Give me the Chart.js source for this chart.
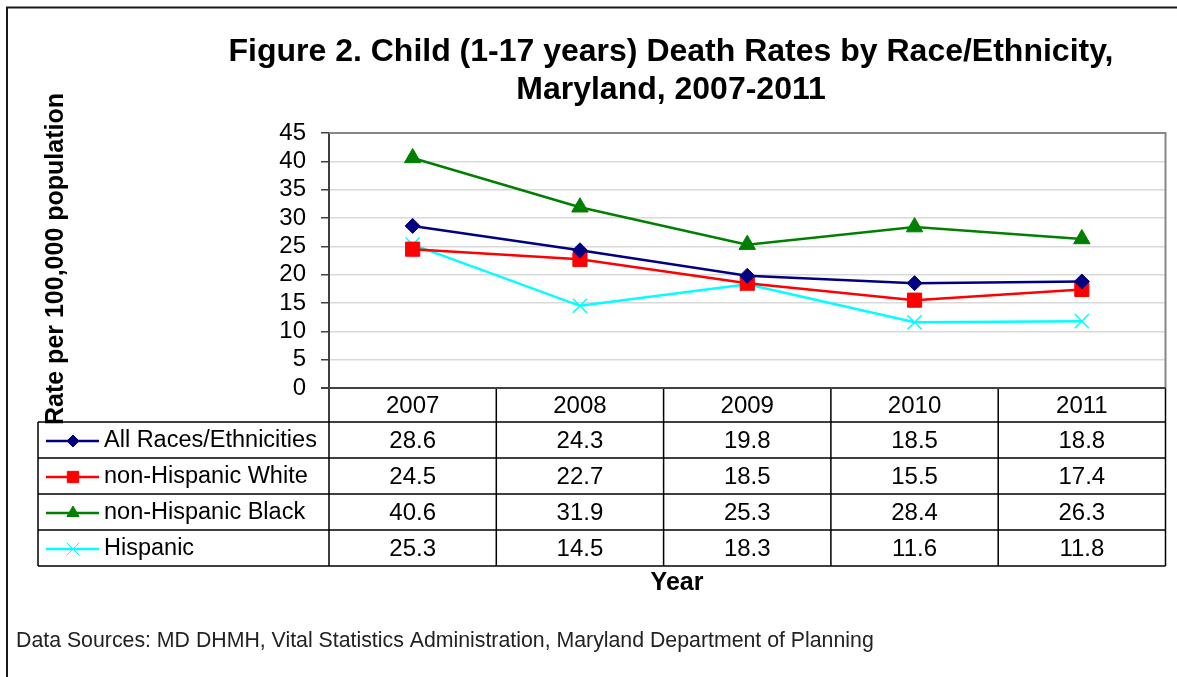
<!DOCTYPE html>
<html><head><meta charset="utf-8">
<script src="https://cdn.jsdelivr.net/npm/chart.js@4/dist/chart.umd.min.js"></script>
<style>html,body{margin:0;padding:0;background:#fff}#wrap{position:relative;width:1177px;height:677px}</style>
</head><body><div id="wrap"><canvas id="c" width="1177" height="677"></canvas></div>
<script>
const years = ['2007', '2008', '2009', '2010', '2011'];
const allRaces = [28.6, 24.3, 19.8, 18.5, 18.8];
const nhWhite = [24.5, 22.7, 18.5, 15.5, 17.4];
const nhBlack = [40.6, 31.9, 25.3, 28.4, 26.3];
const hispanic = [25.3, 14.5, 18.3, 11.6, 11.8];
const seriesNames = ['All Races/Ethnicities', 'non-Hispanic White', 'non-Hispanic Black', 'Hispanic'];
const titleLines = ['Figure 2. Child (1-17 years) Death Rates by Race/Ethnicity,', 'Maryland, 2007-2011'];
const yAxisTitle = 'Rate per 100,000 population';
const xAxisTitle = 'Year';
const sourceNote = 'Data Sources: MD DHMH, Vital Statistics Administration, Maryland Department of Planning';
const yMin = 0, yMax = 45, yStep = 5;

const FONT = 'Arial, "Liberation Sans", sans-serif';
const seriesData = [allRaces, nhWhite, nhBlack, hispanic];
const styles = [
  {color: '#000080', pointStyle: 'rectRot', radius: 7.5, legendRadius: 6},
  {color: '#FF0000', pointStyle: 'rect', radius: 10, legendRadius: 8},
  {color: '#008000', pointStyle: 'triangle', radius: 9.5, legendRadius: 7},
  {color: '#00FFFF', pointStyle: 'crossRot', radius: 10, legendRadius: 9}
];

const PLOT = {left: 329, top: 133, right: 1171, bottom: 388};
const TABLE = {left: 38, headerBottom: 422, rowH: 36};

const extras = {
  id: 'extras',
  beforeDatasetsDraw(chart) {
    const ctx = chart.ctx, a = chart.chartArea;
    ctx.save();
    ctx.strokeStyle = '#878787';
    ctx.lineWidth = 2;
    ctx.beginPath();
    ctx.moveTo(a.left, a.top); ctx.lineTo(a.right, a.top); ctx.lineTo(a.right, a.bottom);
    ctx.stroke();
    ctx.restore();
  },
  afterDraw(chart) {
    const ctx = chart.ctx, a = chart.chartArea, xs = chart.scales.x;
    const colW = (a.right - a.left) / years.length;
    ctx.save();
    // outer frame
    ctx.strokeStyle = '#1a1a1a'; ctx.lineWidth = 2;
    ctx.beginPath(); ctx.moveTo(7, 677); ctx.lineTo(7, 7.5); ctx.lineTo(1177, 7.5); ctx.stroke();
    // title
    ctx.fillStyle = '#000'; ctx.textAlign = 'center'; ctx.textBaseline = 'middle';
    ctx.font = 'bold 32px ' + FONT;
    ctx.fillText(titleLines[0], 671, 52);
    ctx.fillText(titleLines[1], 671, 90);
    // y axis title
    ctx.save();
    ctx.translate(56, 259); ctx.rotate(-Math.PI / 2);
    ctx.font = 'bold 25px ' + FONT;
    ctx.fillText(yAxisTitle, 0, 0);
    ctx.restore();
    // table
    const nRows = seriesNames.length;
    const tableBottom = TABLE.headerBottom + nRows * TABLE.rowH;
    ctx.strokeStyle = '#000'; ctx.lineWidth = 1.5;
    ctx.beginPath();
    for (let r = 0; r <= nRows; r++) {
      const y = TABLE.headerBottom + r * TABLE.rowH;
      ctx.moveTo(TABLE.left, y); ctx.lineTo(a.right, y);
    }
    ctx.moveTo(TABLE.left, TABLE.headerBottom); ctx.lineTo(TABLE.left, tableBottom);
    for (let i = 0; i <= years.length; i++) {
      const x = a.left + i * colW;
      ctx.moveTo(x, a.bottom); ctx.lineTo(x, tableBottom);
    }
    ctx.stroke();
    // bottom axis line
    ctx.strokeStyle = '#404040'; ctx.lineWidth = 2;
    ctx.beginPath(); ctx.moveTo(a.left - 8, a.bottom); ctx.lineTo(a.right, a.bottom); ctx.stroke();
    // header
    ctx.fillStyle = '#000';
    ctx.font = '24px ' + FONT; ctx.textAlign = 'center';
    years.forEach((yr, i) => ctx.fillText(yr, xs.getPixelForValue(i), (a.bottom + TABLE.headerBottom) / 2 + 1));
    // rows
    seriesNames.forEach((name, r) => {
      const yc = TABLE.headerBottom + r * TABLE.rowH + TABLE.rowH / 2 + 1;
      const st = styles[r];
      ctx.strokeStyle = st.color; ctx.lineWidth = 2.5;
      ctx.beginPath(); ctx.moveTo(46, yc); ctx.lineTo(99, yc); ctx.stroke();
      ctx.fillStyle = st.color; ctx.strokeStyle = st.color; ctx.lineWidth = 1;
      Chart.helpers.drawPoint(ctx, {pointStyle: st.pointStyle, radius: st.legendRadius, borderWidth: 1, rotation: 0}, 73, yc);
      ctx.fillStyle = '#000';
      ctx.font = '23.5px ' + FONT; ctx.textAlign = 'left';
      ctx.fillText(name, 104, yc);
      ctx.font = '24px ' + FONT; ctx.textAlign = 'center';
      seriesData[r].forEach((v, i) => ctx.fillText(v.toFixed(1), xs.getPixelForValue(i), yc));
    });
    // x title
    ctx.font = 'bold 25px ' + FONT; ctx.textAlign = 'center';
    ctx.fillText(xAxisTitle, 677, 583);
    // source
    ctx.font = '21.3px ' + FONT; ctx.textAlign = 'left'; ctx.fillStyle = '#222';
    ctx.fillText(sourceNote, 16, 641);
    ctx.restore();
  }
};

new Chart(document.getElementById('c'), {
  type: 'line',
  data: {
    labels: years,
    datasets: seriesNames.map((name, i) => ({
      label: name,
      data: seriesData[i],
      borderColor: styles[i].color,
      backgroundColor: styles[i].color,
      borderWidth: 2.5,
      pointStyle: styles[i].pointStyle,
      pointRadius: styles[i].radius,
      pointBorderWidth: styles[i].pointStyle === 'crossRot' ? 1.5 : 1,
      pointBorderColor: styles[i].color,
      pointBackgroundColor: styles[i].color,
      tension: 0
    }))
  },
  options: {
    responsive: false,
    animation: false,
    layout: {padding: {left: 0, top: PLOT.top, right: 1177 - PLOT.right, bottom: 677 - PLOT.bottom}},
    plugins: {legend: {display: false}, title: {display: false}, tooltip: {enabled: false}},
    scales: {
      x: {
        type: 'category', offset: true,
        grid: {display: false, drawTicks: false},
        border: {display: false},
        ticks: {display: false},
        afterFit(s) { s.height = 0; }
      },
      y: {
        min: yMin, max: yMax,
        ticks: {stepSize: yStep, autoSkip: false, color: '#000', font: {size: 24, family: FONT}, padding: 15},
        grid: {color: '#d9d9d9', lineWidth: 1.5, tickColor: '#404040', tickLength: 8},
        border: {color: '#404040', width: 2},
        title: {display: false},
        afterFit(s) { s.width = PLOT.left; }
      }
    }
  },
  plugins: [extras]
});
</script></body></html>
